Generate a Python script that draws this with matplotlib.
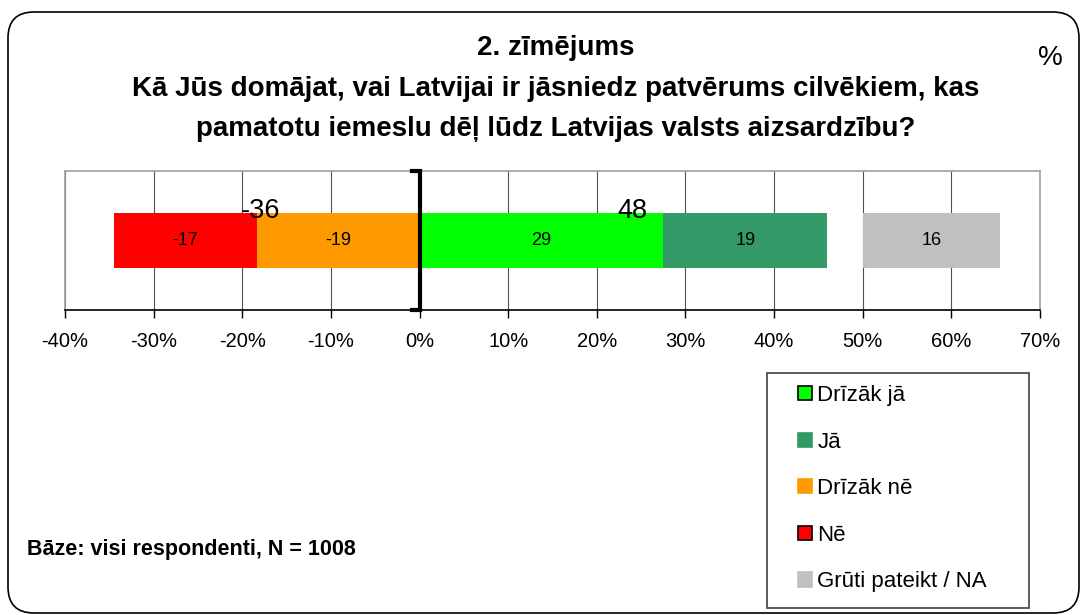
import matplotlib
matplotlib.use('Agg')
import matplotlib.pyplot as plt
from matplotlib.patches import FancyBboxPatch, Rectangle, Patch
import numpy as np

plt.rcParams['font.family'] = ['Liberation Sans', 'DejaVu Sans']

# #### DATA ####
title_lines = ['2. zīmējums',
               'Kā Jūs domājat, vai Latvijai ir jāsniedz patvērums cilvēkiem, kas',
               'pamatotu iemeslu dēļ lūdz Latvijas valsts aizsardzību?']
base_note = 'Bāze: visi respondenti, N = 1008'

# segments stacked outward from zero, lengths
neg_names = ['Drīzāk nē', 'Nē']
neg_len = [18.3, 16.2]
neg_labels = ['-19', '-17']
pos_names = ['Drīzāk jā', 'Jā']
pos_len = [27.5, 18.5]
pos_labels = ['29', '19']
na_name = 'Grūti pateikt / NA'
na_len = 15.5
na_label = '16'
na_offset = 50  # drawn apart, starting at 50 %

colors = {'Nē': '#FF0000', 'Drīzāk nē': '#FF9900', 'Drīzāk jā': '#00FF00',
          'Jā': '#339966', 'Grūti pateikt / NA': '#C0C0C0'}

totals = [-36, 48]

legend_order = ['Drīzāk jā', 'Jā', 'Drīzāk nē', 'Nē', 'Grūti pateikt / NA']
legend_edge = {'Drīzāk jā': True, 'Nē': True}

ticks = np.arange(-40, 71, 10)

W, H = 1082, 615
fig = plt.figure(figsize=(W / 100, H / 100), dpi=100)

# background layer in pixel coordinates (y down)
bg = fig.add_axes([0, 0, 1, 1])
bg.set_xlim(0, W)
bg.set_ylim(H, 0)
bg.axis('off')
bg.set_zorder(-1)

frame = FancyBboxPatch((8, 12), 1071, 601, boxstyle='round,pad=0,rounding_size=26',
                       fc='white', ec='black', lw=1.2)
bg.add_patch(frame)

ys = [48, 89, 129]
for line, y in zip(title_lines, ys):
    bg.text(556, y, line, ha='center', va='center', fontsize=20, fontweight='bold')
bg.text(1050, 58, '%', ha='center', va='center', fontsize=20)
bg.text(27, 550, base_note, ha='left', va='center', fontsize=15.5, fontweight='bold')

# legend box
bg.add_patch(Rectangle((767, 373), 262, 235, fc='white', ec='#404040', lw=1.2))

# #### MAIN CHART ####
ax = fig.add_axes([65 / W, 1 - 310 / H, (1040 - 65) / W, (310 - 171) / H])
ax.set_xlim(-40, 70)
ax.set_ylim(-0.5, 0.5)


def draw_segment(start, length, name, label):
    ax.barh(0, length, left=start, height=0.4, color=colors[name], lw=0, zorder=2)
    ax.text(start + length / 2, 0, label, ha='center', va='center', fontsize=13, zorder=3)


edge = 0
for name, v, lab in zip(neg_names, neg_len, neg_labels):
    draw_segment(edge - v, v, name, lab)
    edge -= v

edge = 0
for name, v, lab in zip(pos_names, pos_len, pos_labels):
    draw_segment(edge, v, name, lab)
    edge += v

draw_segment(na_offset, na_len, na_name, na_label)

for t in totals:
    ax.text(t / 2, 0.16, str(t), ha='center', va='baseline', fontsize=19.5, zorder=4)

# zero bracket
ax.plot([-0.9, 0, 0, -0.9], [0.5, 0.5, -0.5, -0.5], color='black', lw=3,
        solid_joinstyle='miter', clip_on=False, zorder=5)

ax.set_xticks(ticks)
ax.set_xticklabels([f'{t}%' for t in ticks], fontsize=14.5)
ax.set_yticks([])
ax.grid(axis='x', color='#505050', lw=0.8, zorder=0)
ax.set_axisbelow(True)
for s in ['top', 'left', 'right']:
    ax.spines[s].set_color('#A0A0A0')
    ax.spines[s].set_linewidth(1.2)
ax.spines['bottom'].set_color('black')
ax.spines['bottom'].set_linewidth(1.2)
ax.tick_params(axis='x', direction='out', length=6, width=1, pad=10)

handles = []
for name in legend_order:
    c = colors[name]
    handles.append(Patch(fc=c, ec='black' if legend_edge.get(name) else c, lw=1.2))
fig.legend(handles, legend_order, loc='upper left', bbox_to_anchor=(798 / W, 1 - 385 / H),
           frameon=False, fontsize=16, handlelength=0.62, handleheight=0.62,
           handletextpad=0.25, labelspacing=1.15, borderpad=0, borderaxespad=0)

fig.savefig('out.png', dpi=100)
